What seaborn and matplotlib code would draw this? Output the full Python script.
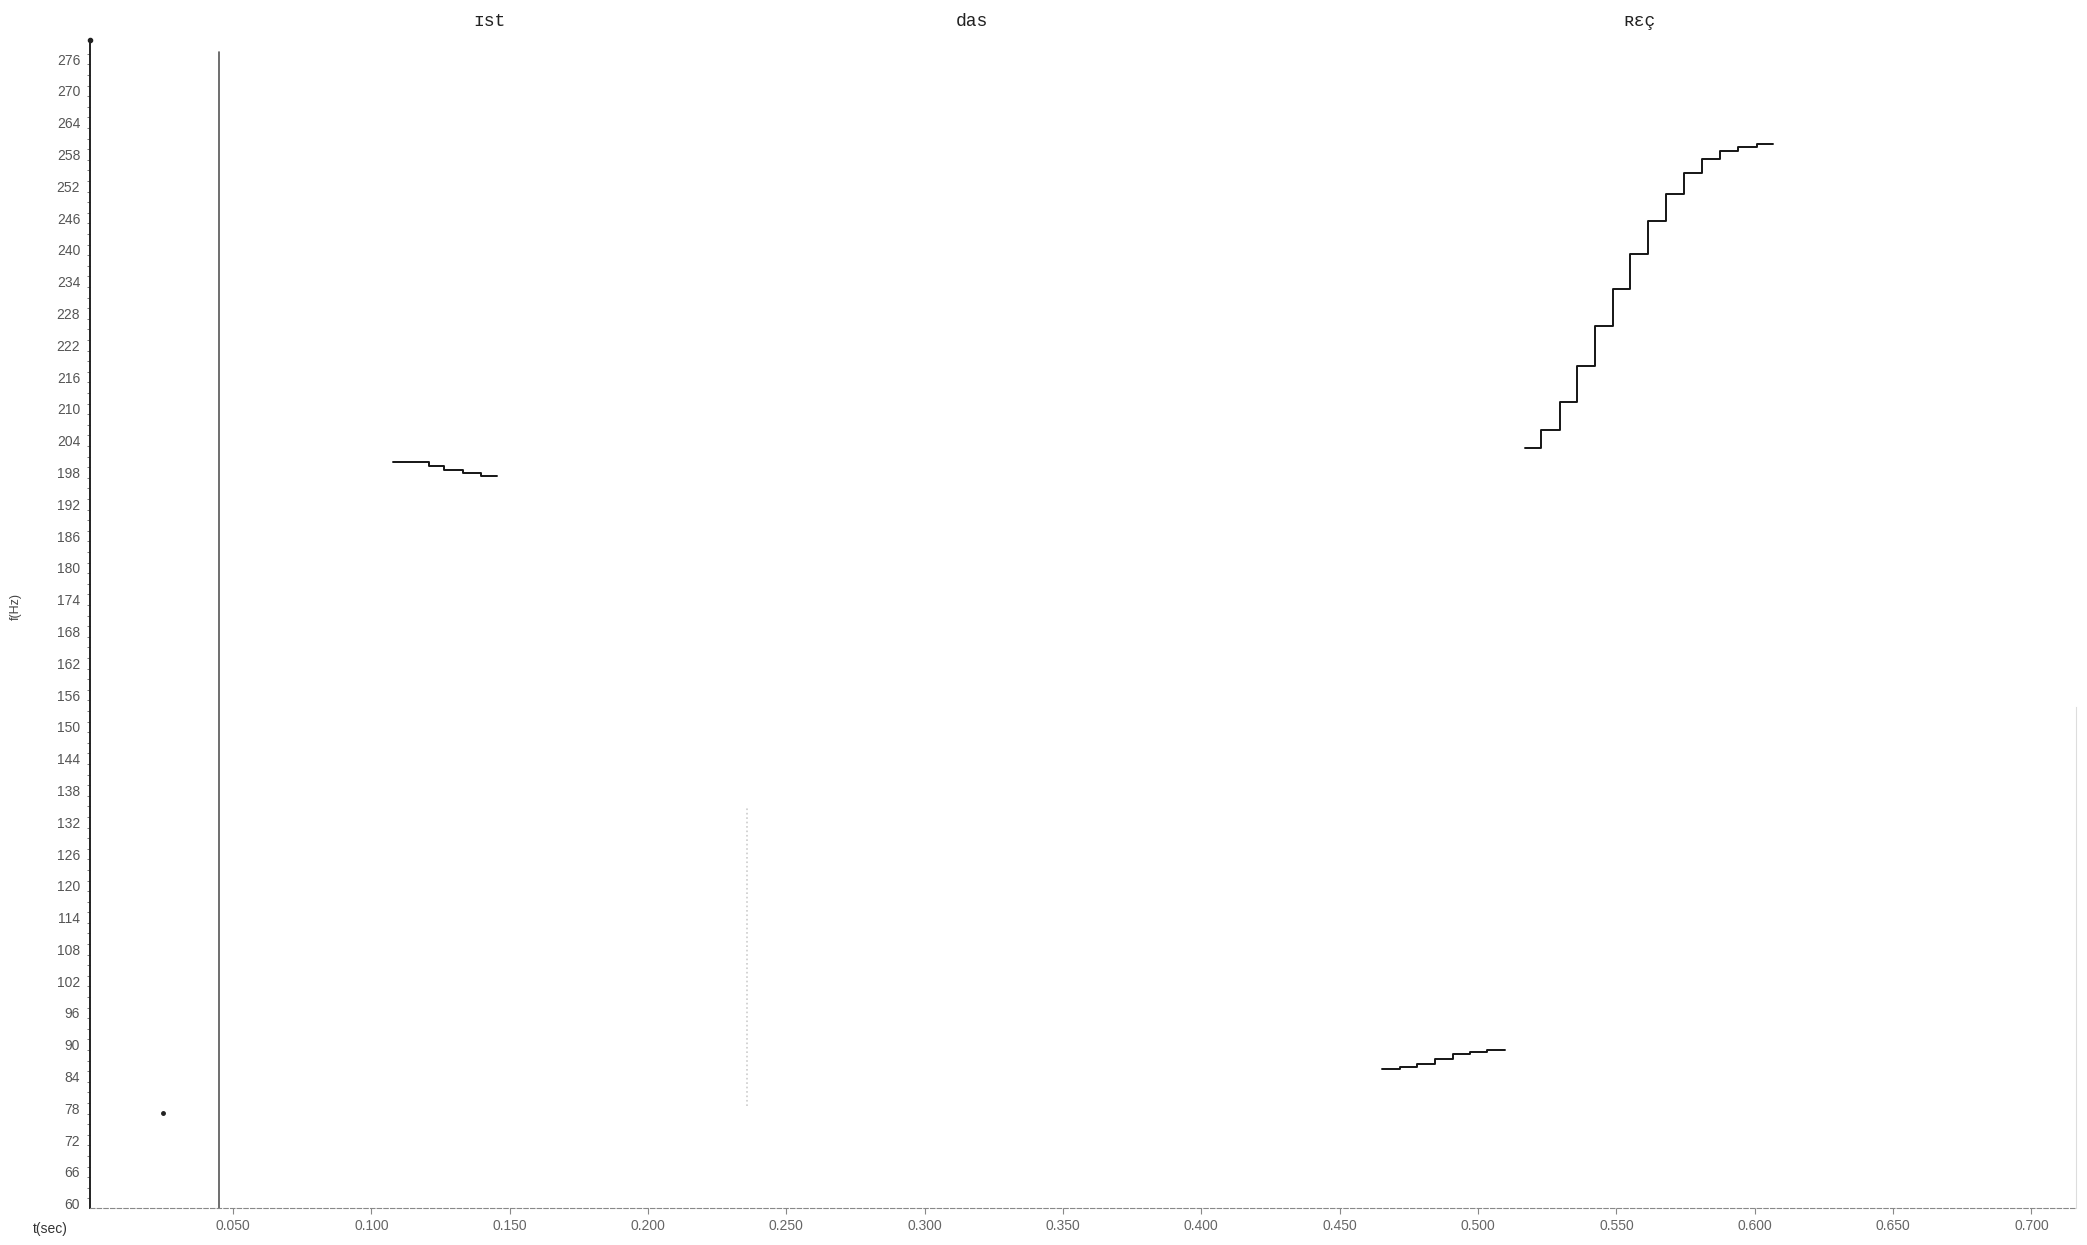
import numpy as np
import pandas as pd
import matplotlib.pyplot as plt
import seaborn as sns

# pitch track segments (time in s, f0 in Hz)
ist_t = [0.1080, 0.1138, 0.1207, 0.1264, 0.1333, 0.1395, 0.1453]
ist_f = [200.0, 199.9, 199.3, 198.4, 197.9, 197.4, 197.4]

das_t = [0.4654, 0.4717, 0.4781, 0.4843, 0.4908, 0.4970, 0.5032, 0.5097]
das_f = [85.4, 85.75, 86.45, 87.3, 88.2, 88.7, 89.0, 89.0]

rec_t = [0.5168, 0.5229, 0.5295, 0.5357, 0.5424, 0.5488, 0.5549, 0.5614,
         0.5678, 0.5745, 0.5810, 0.5874, 0.5939, 0.6007, 0.6066]
rec_f = [202.6, 206.0, 211.3, 218.1, 225.6, 232.7, 239.3, 245.4,
         250.6, 254.5, 257.2, 258.7, 259.4, 259.9, 259.9]

words = ["ɪst", "das", "ʀɛç"]
word_t = [0.1427, 0.3172, 0.5584]

y_ticks = list(range(60, 277, 6))
x_ticks = [0.05, 0.10, 0.15, 0.20, 0.25, 0.30, 0.35, 0.40, 0.45, 0.50, 0.55, 0.60, 0.65, 0.70]

sns.set_style("white")
plt.rcParams['font.family'] = ['Liberation Sans', 'DejaVu Sans']

fig = plt.figure(figsize=(20.87, 12.45), dpi=100)
ax = fig.add_axes([0.0431, 0.0297, 0.9516, 0.9382])

for t, f in [(ist_t, ist_f), (das_t, das_f), (rec_t, rec_f)]:
    seg = pd.DataFrame({"t": t, "f": f})
    sns.lineplot(data=seg, x="t", y="f", drawstyle="steps-post",
                 color="#151515", lw=1.4, ax=ax)

# segment marker line and stray marks from the scan
ax.axvline(0.0451, ymin=0.0, ymax=0.99, color="#555555", lw=1.2)
ax.plot([0.2359, 0.2359], [78.4, 134.9], color="#cccccc", lw=1.2, ls=":")
ax.plot([0.0248], [77.1], marker="o", ms=2.5, color="#222222")

ax.set_xlim(-0.0017, 0.7161)
ax.set_ylim(59.2, 279.6)
ax.set_yticks(y_ticks)
ax.set_yticks(np.arange(61, 279, 2), minor=True)
ax.set_xticks(x_ticks)
ax.set_xticklabels([f"{v:.3f}" for v in x_ticks])
ax.tick_params(axis="y", which="major", length=4, color="#444444", labelsize=10,
               labelcolor="#555555", pad=3)
ax.tick_params(axis="y", which="minor", length=2, color="#666666", left=True)
ax.tick_params(axis="x", length=4, color="#888888", labelsize=10,
               labelcolor="#666666", bottom=True, pad=4)
ax.set_xlabel("")
ax.set_ylabel("")

ax.spines["top"].set_visible(False)
ax.spines["left"].set_color("#222222")
ax.spines["left"].set_linewidth(1.4)
ax.spines["bottom"].set_color("#888888")
ax.spines["bottom"].set_linestyle((0, (4, 2)))
ax.spines["right"].set_color("#dddddd")
ax.spines["right"].set_bounds(59.2, 153.8)

for w, t in zip(words, word_t):
    ax.text(t, 1.016, w, transform=ax.get_xaxis_transform(), ha="center", va="center",
            fontsize=13, color="#222222", family=["Liberation Mono", "DejaVu Sans Mono"])

fig.text(0.0075, 0.513, "f(Hz)", rotation=90, ha="center", va="center",
         fontsize=9, color="#444444")
fig.text(0.024, 0.007, "t(sec)", ha="center", va="bottom", fontsize=10, color="#333333")
ax.plot([-0.0017], [279.6], marker="o", ms=3, color="#222222", clip_on=False)

fig.savefig("out.png", dpi=100)
